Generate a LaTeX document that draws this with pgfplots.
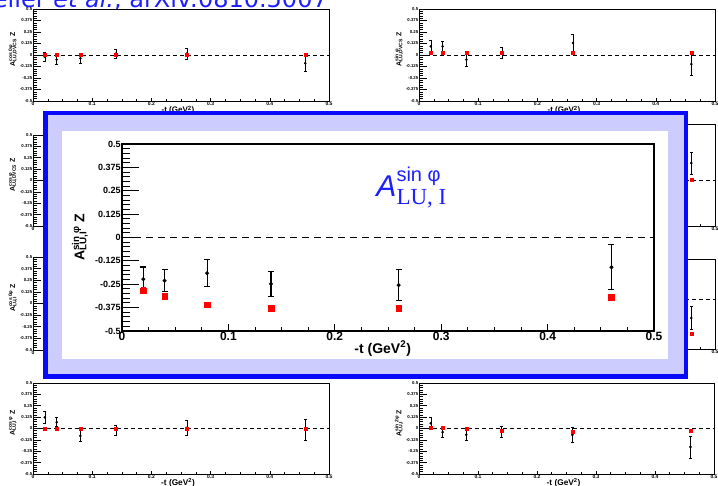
\documentclass[border=0pt]{standalone}
\usepackage{pgfplots}
\pgfplotsset{compat=1.18}
\usepackage{pgfplotstable}
\usepackage{fontspec}
\setmainfont{Liberation Sans}
\newfontfamily\serifLS{Liberation Serif}
\newfontfamily\dejavu{DejaVu Sans}
\definecolor{framebl}{RGB}{10,10,250}
\definecolor{lav}{RGB}{204,204,255}
\definecolor{txtbl}{RGB}{30,30,255}
\definecolor{rootred}{RGB}{255,0,0}
\newcommand{\fs}[1]{\fontsize{#1}{#1}\selectfont}
\newcommand{\Alab}[2]{A\setbox0\hbox{\textsuperscript{#1}}\setbox2\hbox{\textsubscript{#2}}\ifdim\wd0>\wd2 \rlap{\box2}\box0\else\rlap{\box0}\box2\fi\hspace{0.25em}Z}

\pgfplotstableread{
x yb eb yr er
0.02 -0.020 0.045 0.000 0.008
0.04 -0.050 0.055 0.000 0.008
0.08 -0.036 0.055 0.000 0.008
0.14 0.014 0.045 0.000 0.008
0.26 0.015 0.060 0.002 0.008
0.46 -0.090 0.090 0.002 0.008
}\TLdata
\pgfplotstableread{
x yb eb yr er
0.02 0.094 0.070 0.022 0.008
0.04 0.094 0.060 0.022 0.008
0.08 -0.050 0.075 0.020 0.008
0.14 0.020 0.060 0.022 0.008
0.26 0.130 0.095 0.022 0.008
0.46 -0.100 0.120 0.022 0.008
}\TRdata
\pgfplotstableread{
x yb eb yr er
0.02 0.060 0.060 0.000 0.008
0.04 0.030 0.060 0.000 0.008
0.08 -0.020 0.060 0.000 0.008
0.14 0.010 0.060 0.000 0.008
0.26 0.050 0.080 0.000 0.008
0.46 0.020 0.120 0.000 0.008
}\MLAdata
\pgfplotstableread{
x yb eb yr er
0.02 0.080 0.070 0.008 0.008
0.04 0.060 0.070 0.008 0.008
0.08 0.030 0.070 0.008 0.008
0.14 0.100 0.070 0.008 0.008
0.26 0.120 0.090 0.008 0.008
0.46 0.185 0.120 0.008 0.008
}\MRAdata
\pgfplotstableread{
x yb eb yr er
0.02 0.010 0.060 0.000 0.008
0.04 -0.020 0.060 0.000 0.008
0.08 0.020 0.060 0.000 0.008
0.14 -0.010 0.060 0.000 0.008
0.26 0.030 0.080 0.000 0.008
0.46 -0.040 0.120 0.000 0.008
}\MLBdata
\pgfplotstableread{
x yb eb yr er
0.02 -0.223 0.065 -0.284 0.010
0.04 -0.231 0.060 -0.314 0.010
0.08 -0.191 0.073 -0.359 0.010
0.14 -0.248 0.066 -0.377 0.010
0.26 -0.255 0.083 -0.377 0.010
0.46 -0.190 0.115 -0.350 0.010
}\MRBdata
\pgfplotstableread{
x yb eb yr er
0.02 0.123 0.065 0.000 0.008
0.04 0.069 0.050 0.000 0.008
0.08 -0.080 0.060 0.000 0.008
0.14 -0.015 0.055 0.000 0.008
0.26 0.007 0.080 0.000 0.008
0.46 -0.015 0.120 0.000 0.008
}\BLdata
\pgfplotstableread{
x yb eb yr er
0.02 0.058 0.063 0.007 0.008
0.04 -0.040 0.060 0.010 0.008
0.08 -0.069 0.060 -0.007 0.008
0.14 -0.033 0.060 -0.022 0.008
0.26 -0.069 0.083 -0.033 0.008
0.46 -0.203 0.120 -0.022 0.008
}\BRdata
\pgfplotstableread{
x yb eb yr er
0.02 -0.223 0.065 -0.284 0.015
0.04 -0.231 0.060 -0.314 0.015
0.08 -0.191 0.073 -0.359 0.010
0.14 -0.248 0.066 -0.377 0.010
0.26 -0.255 0.083 -0.377 0.010
0.46 -0.159 0.120 -0.320 0.012
}\BIGdata

\pgfplotsset{
  rootbase/.style={
    scale only axis, anchor=south west,
    xmin=0, xmax=0.5, ymin=-0.5, ymax=0.5,
    xtick={0,0.1,0.2,0.3,0.4,0.5},
    xticklabels={0,0.1,0.2,0.3,0.4,0.5},
    ytick={-0.5,-0.375,-0.25,-0.125,0,0.125,0.25,0.375,0.5},
    yticklabels={-0.5,-0.375,-0.25,-0.125,0,0.125,0.25,0.375,0.5},
    minor x tick num=3, minor y tick num=4,
    tick align=inside, xtick pos=bottom, ytick pos=left,
    clip=false,
  },
  rootsmall/.style={rootbase, width=296pt, height=92pt,
    axis line style={line width=0.9pt},
    every tick/.append style={black, line width=0.55pt},
    major tick length=8pt, minor tick length=4pt,
    xtick style={/pgfplots/major tick length=3pt,/pgfplots/minor tick length=1.6pt},
    xticklabel style={font=\fs{5}\bfseries, inner sep=0.6pt},
    yticklabel style={font=\fs{4.3}\bfseries, inner sep=0.6pt},
    xlabel={-t (GeV\textsuperscript{2})},
    every axis x label/.style={at={(rel axis cs:0.49,-0.015)}, anchor=north, font=\fs{8}\bfseries},
    every axis y label/.style={at={(rel axis cs:-0.068,0.56)}, rotate=90, anchor=center, font=\fs{7}\bfseries},
  },
  zeroS/.style={black, dashed, line width=0.8pt, dash pattern=on 4pt off 3pt, forget plot},
  blackS/.style={black, only marks, mark=*, mark size=1.1pt,
    error bars/.cd, y dir=both, y explicit,
    error bar style={line width=0.6pt},
    error mark options={rotate=90, mark size=1.5pt, line width=0.6pt}},
  redS/.style={rootred, only marks, mark=square*, mark size=1.5pt,
    error bars/.cd, y dir=both, y explicit,
    error bar style={line width=0.6pt, rootred},
    error mark options={rotate=90, mark size=1pt, line width=0.6pt, rootred}},
}

\newcommand{\smallpanel}[5]{%
\begin{axis}[rootsmall, at={(#1pt,#2pt)}, #3, ylabel={#4}]
\addplot[zeroS] coordinates {(0,0) (0.5,0)};
\addplot[blackS] table[x=x,y=yb,y error=eb]{#5};
\addplot[redS] table[x=x,y=yr,y error=er]{#5};
\end{axis}}

\begin{document}
\begin{tikzpicture}[x=1pt,y=1pt]
\path[use as bounding box] (0,0) rectangle (718,486);
\clip (0,0) rectangle (718,486);
\fill[white] (0,0) rectangle (718,486);

% background title (cut off at top)
\node[anchor=base east, inner sep=0pt, text=txtbl, font=\dejavu\fs{24}] at (328,478.7) {eller \textit{et al.}, arXiv:0810.5007};

% small panels
\smallpanel{33}{385}{height=92pt}{\Alab{cos 0φ}{LU,DVCS}}{\TLdata}
\smallpanel{419}{385}{height=92pt}{\Alab{sin φ}{LU,DVCS}}{\TRdata}
\smallpanel{33}{260}{height=91pt}{\Alab{cos φ}{LU,DVCS}}{\MLAdata}
\smallpanel{419}{260}{height=102pt, ymax=0.61}{\Alab{sin 2φ}{LU,DVCS}}{\MRAdata}
\smallpanel{33}{136}{height=93pt}{\Alab{cos 0φ}{LU,I}}{\MLBdata}
\smallpanel{419}{137}{height=90pt, ymax=0.4}{\Alab{sin φ}{LU,I}}{\MRBdata}
\smallpanel{33}{12}{height=91pt, every axis x label/.append style={at={(rel axis cs:0.49,-0.008)}, font=\fs{8.3}\bfseries}}{\Alab{cos φ}{LU,I}}{\BLdata}
\smallpanel{419}{12}{height=91pt, width=295pt, every axis x label/.append style={at={(rel axis cs:0.49,-0.008)}, font=\fs{8.3}\bfseries}}{\Alab{sin 2φ}{LU,I}}{\BRdata}

% highlight frame
\fill[lav] (45.25,109.25) rectangle (685.75,372.75);
\draw[framebl, line width=4.5pt] (45.25,109.25) rectangle (685.75,372.75);
\fill[white] (62,127) rectangle (668,355);

% big panel
\begin{axis}[rootbase, at={(122pt,155pt)}, width=532pt, height=187pt,
    axis line style={line width=1.4pt},
    every tick/.append style={black, line width=1pt},
    major tick length=17pt, minor tick length=8pt,
    xtick style={/pgfplots/major tick length=7pt,/pgfplots/minor tick length=4pt},
    xticklabel style={font=\fs{12}\bfseries, inner sep=1pt},
    yticklabel style={font=\fs{9}\bfseries, inner sep=1.2pt},
    xlabel={-t (GeV\textsuperscript{2})},
    every axis x label/.style={at={(rel axis cs:0.49,-0.035)}, anchor=north, font=\fs{14}\bfseries},
    ylabel={\Alab{sin φ}{LU,I}},
    every axis y label/.style={at={(rel axis cs:-0.079,0.5)}, rotate=90, anchor=center, font=\fs{14}\bfseries},
  ]
\addplot[black, dashed, line width=1.5pt, dash pattern=on 7pt off 5pt, forget plot] coordinates {(0,0) (0.5,0)};
\addplot[black, only marks, mark=*, mark size=1.8pt,
    error bars/.cd, y dir=both, y explicit,
    error bar style={line width=1.1pt},
    error mark options={rotate=90, mark size=3pt, line width=1.1pt}]
  table[x=x,y=yb,y error=eb]{\BIGdata};
\addplot[rootred, only marks, mark=square*, mark size=2.8pt,
    error bars/.cd, y dir=both, y explicit,
    error bar style={line width=1pt, rootred},
    error mark options={rotate=90, mark size=2.5pt, line width=1pt, rootred}]
  table[x=x,y=yr,y error=er]{\BIGdata};
\node[anchor=base west, inner sep=0pt, text=txtbl] at (rel axis cs:0.478,0.721)
  {{\fs{30}\itshape A}\rlap{\raisebox{15pt}{\fs{20}sin φ}}\raisebox{-8.7pt}{\serifLS\fs{23}LU, I}};
\end{axis}
\end{tikzpicture}
\end{document}
